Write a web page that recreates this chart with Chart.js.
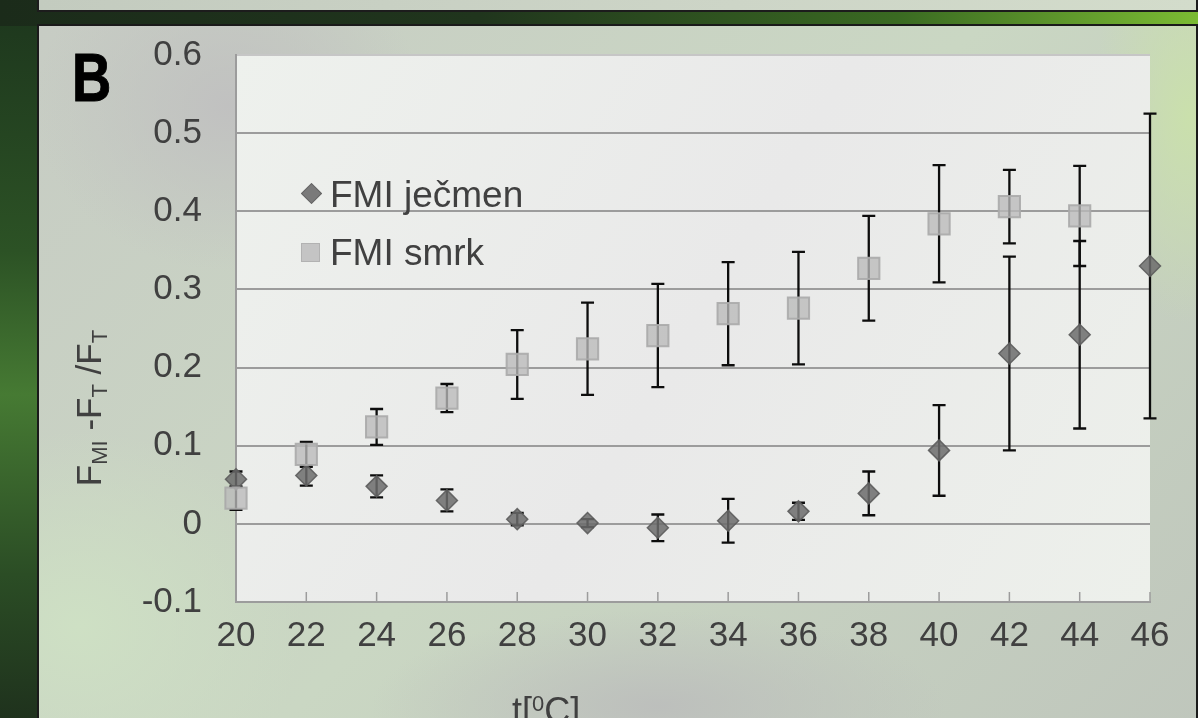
<!DOCTYPE html>
<html>
<head>
<meta charset="utf-8">
<script src="https://cdn.jsdelivr.net/npm/chart.js@4.4.0/dist/chart.umd.min.js"></script>
<style>
    html, body { margin: 0; padding: 0; }
    body {
        width: 1198px; height: 718px; overflow: hidden; position: relative;
        font-family: 'Liberation Sans', Arial, sans-serif;
        background: linear-gradient(to bottom, #1d361d 0%, #2c5225 35%, #467a33 55%, #2b4d25 80%, #1f321d 100%);
    }
    #topband {
        position: absolute; left: 0; top: 0; width: 1198px; height: 26px;
        background: linear-gradient(to right, #1b2b1a 0%, #20351d 40%, #3a6a22 75%, #7bbb33 100%);
    }
    #panelA {
        position: absolute; left: 37px; top: -12px; width: 1157px; height: 20px;
        border: 2px solid #1c1c1c;
        background: linear-gradient(to right, #c3cbbf, #cdd5c7 60%, #d3dccb);
    }
    #panelB {
        position: absolute; left: 37px; top: 24px; width: 1157px; height: 720px;
        border: 2px solid #1a1a1a;
        background:
            radial-gradient(ellipse 260px 220px at 190px 80px, rgba(192,192,192,0.95), rgba(192,192,192,0) 75%),
            radial-gradient(ellipse 300px 260px at 40px 600px, rgba(206,224,196,1), rgba(206,224,196,0) 75%),
            radial-gradient(ellipse 360px 120px at 620px 680px, rgba(188,190,188,0.95), rgba(188,190,188,0) 80%),
            radial-gradient(ellipse 120px 260px at 1150px 90px, rgba(202,224,172,1), rgba(202,224,172,0) 80%),
            linear-gradient(135deg, #c7ccc4 0%, #cad7c3 50%, #bfc6bc 100%);
    }
    #chartWrap { position: absolute; left: 0; top: 0; width: 1198px; height: 718px; }
    .txt { position: absolute; color: #404040; white-space: nowrap; }
    #panelLabel {
        position: absolute; left: 72px; top: 43px; font-weight: bold; font-size: 68px; line-height: 68px;
        color: #000; transform: scaleX(0.8); transform-origin: left top;
        -webkit-text-stroke: 1px #000;
    }
    #yTitle {
        left: 88px; top: 408px; font-size: 35px; line-height: 35px;
        transform: translate(-50%, -50%) rotate(-90deg);
    }
    #yTitle sub { font-size: 22px; vertical-align: -6px; line-height: 0; }
    #xTitle { left: 512px; top: 693px; font-size: 36px; line-height: 36px; }
    #xTitle sup { font-size: 22px; vertical-align: 12px; line-height: 0; }
    .legItem { position: absolute; left: 330px; font-size: 37px; line-height: 37px; color: #404040; white-space: nowrap; }
    .dia {
        position: absolute; left: 304px; width: 13px; height: 13px;
        background: #7a7a7a; border: 1px solid #666; transform: rotate(45deg);
    }
    .sq {
        position: absolute; left: 301px; width: 17px; height: 17px;
        background: #c4c4c4; border: 1px solid #b2b2b2;
    }
</style>
</head>
<body>
<div id="topband"></div>
<div id="panelA"></div>
<div id="panelB"></div>
<div id="chartWrap"><canvas id="fmiChart"></canvas></div>
<div id="panelLabel">B</div>
<div class="txt" id="yTitle">F<sub>MI</sub> -F<sub>T</sub> /F<sub>T</sub></div>
<div class="txt" id="xTitle">t[<sup>0</sup>C]</div>
<span class="dia" style="top:186px"></span>
<div class="legItem" style="top:176px">FMI ječmen</div>
<span class="sq" style="top:243px"></span>
<div class="legItem" style="top:234px">FMI smrk</div>

<script>
    // --- data ---
    const temps = [20, 22, 24, 26, 28, 30, 32, 34, 36, 38, 40, 42, 44, 46];
    const jecmen = [0.057, 0.062, 0.048, 0.030, 0.006, 0.001, -0.005, 0.004, 0.016, 0.039, 0.094, 0.218, 0.242, 0.330];
    const jecmenErr = [0.010, 0.013, 0.014, 0.014, 0.008, 0.005, 0.017, 0.028, 0.011, 0.028, 0.058, 0.124, 0.120, 0.195];
    const smrk = [0.033, 0.089, 0.124, 0.161, 0.204, 0.224, 0.241, 0.269, 0.276, 0.327, 0.384, 0.406, 0.394, null];
    const smrkErr = [0.015, 0.016, 0.023, 0.018, 0.044, 0.059, 0.066, 0.066, 0.072, 0.067, 0.075, 0.047, 0.064, null];

    const yMin = -0.1, yMax = 0.6, yStep = 0.1;
    const xMin = 20, xMax = 46, xStep = 2;

    const TEXT_COLOR = '#404040';
    const GRID_COLOR = '#9c9c9c';
    const TICK_FONT = { family: "'Liberation Sans', Arial, sans-serif", size: 35 };

    const toPoints = (vals) => temps.map((t, i) => ({ x: t, y: vals[i] })).filter(p => p.y !== null);

    // plot area fill
    const plotBg = {
        id: 'plotBg',
        beforeDraw(chart) {
            const { ctx, chartArea: a } = chart;
            const g = ctx.createLinearGradient(a.left, a.top, a.right, a.bottom);
            g.addColorStop(0, '#eef1ed');
            g.addColorStop(0.5, '#e9e9e9');
            g.addColorStop(1, '#edf0eb');
            ctx.save();
            ctx.fillStyle = g;
            ctx.fillRect(a.left, a.top, a.right - a.left, a.bottom - a.top);
            ctx.restore();
        }
    };

    // error bars + inside tick marks on the x axis
    const errorBars = {
        id: 'errorBars',
        beforeDatasetsDraw(chart) {
            const { ctx, scales: { x, y }, chartArea: a } = chart;
            ctx.save();
            // small tick marks pointing up from the x axis
            ctx.strokeStyle = GRID_COLOR;
            ctx.lineWidth = 1.5;
            x.ticks.forEach(t => {
                const px = x.getPixelForValue(t.value);
                ctx.beginPath();
                ctx.moveTo(px, a.bottom);
                ctx.lineTo(px, a.bottom - 10);
                ctx.stroke();
            });
            // error bars
            ctx.strokeStyle = '#0d0d0d';
            ctx.lineWidth = 2.3;
            const series = [[jecmen, jecmenErr], [smrk, smrkErr]];
            series.forEach(([vals, errs]) => {
                vals.forEach((v, i) => {
                    if (v === null) return;
                    const px = x.getPixelForValue(temps[i]);
                    const top = y.getPixelForValue(v + errs[i]);
                    const bot = y.getPixelForValue(v - errs[i]);
                    ctx.beginPath();
                    ctx.moveTo(px, top); ctx.lineTo(px, bot);
                    ctx.moveTo(px - 6.5, top); ctx.lineTo(px + 6.5, top);
                    ctx.moveTo(px - 6.5, bot); ctx.lineTo(px + 6.5, bot);
                    ctx.stroke();
                });
            });
            ctx.restore();
        }
    };

    new Chart(document.getElementById('fmiChart'), {
        type: 'scatter',
        data: {
            datasets: [
                {
                    label: 'FMI ječmen',
                    data: toPoints(jecmen),
                    pointStyle: 'rectRot',
                    pointRadius: 10.5,
                    backgroundColor: 'rgba(108,108,108,0.85)',
                    borderColor: 'rgba(92,92,92,0.9)',
                    borderWidth: 1.5,
                    clip: false,
                    order: 1
                },
                {
                    label: 'FMI smrk',
                    data: toPoints(smrk),
                    pointStyle: 'rect',
                    pointRadius: 15,
                    backgroundColor: 'rgba(186,186,186,0.78)',
                    borderColor: 'rgba(170,170,170,0.9)',
                    borderWidth: 2,
                    clip: false,
                    order: 0
                }
            ]
        },
        options: {
            responsive: true,
            maintainAspectRatio: false,
            animation: false,
            layout: { padding: { left: 100, right: 48, top: 53, bottom: 46 } },
            scales: {
                x: {
                    type: 'linear',
                    min: xMin, max: xMax,
                    afterFit: s => { s.height = 70; },
                    grid: { display: false },
                    border: { display: true, color: GRID_COLOR, width: 2 },
                    ticks: { stepSize: xStep, color: TEXT_COLOR, font: TICK_FONT, padding: 5, maxRotation: 0, autoSkip: false }
                },
                y: {
                    min: yMin, max: yMax,
                    afterFit: s => { s.width = 136; },
                    grid: {
                        drawTicks: false,
                        lineWidth: 2,
                        color: c => Math.abs(c.tick.value - yMax) < 1e-6 ? '#c6c6c6' : GRID_COLOR
                    },
                    border: { display: true, color: GRID_COLOR, width: 2 },
                    ticks: {
                        stepSize: yStep, color: TEXT_COLOR, font: TICK_FONT, padding: 34,
                        callback: v => String(Math.round(v * 10) / 10)
                    }
                }
            },
            plugins: {
                legend: { display: false },
                tooltip: { enabled: false }
            }
        },
        plugins: [plotBg, errorBars]
    });
</script>
</body>
</html>
